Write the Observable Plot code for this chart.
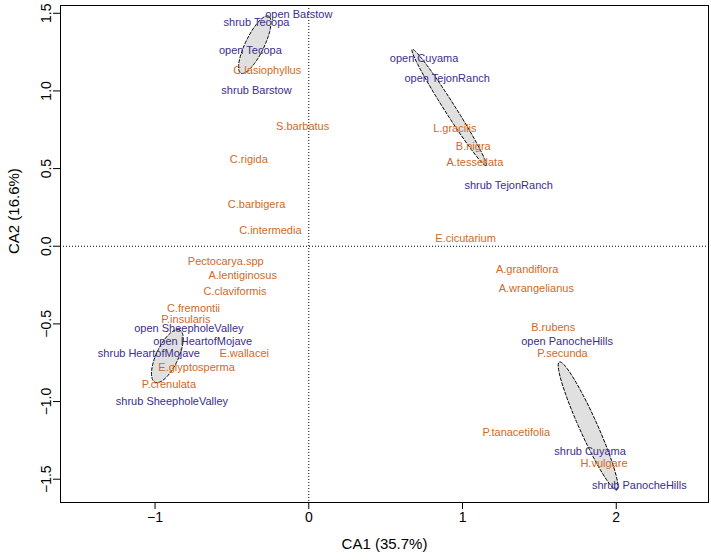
<!DOCTYPE html>
<html><head><meta charset="utf-8">
<script src="https://cdn.jsdelivr.net/npm/d3@7"></script>
<script src="https://cdn.jsdelivr.net/npm/@observablehq/plot@0.6"></script>
<style>body{margin:0;background:#fff;font-family:"Liberation Sans",Arial,sans-serif}</style>
</head><body><div id="c"></div>
<script>
const siteNames = ["open Barstow","shrub Tecopa","open Tecopa","shrub Barstow","open Cuyama","open TejonRanch","shrub TejonRanch","open PanocheHills","shrub Cuyama","shrub PanocheHills","open SheepholeValley","open HeartofMojave","shrub HeartofMojave","shrub SheepholeValley"];
const siteX = [-0.065,-0.34,-0.38,-0.34,0.75,0.90,1.30,1.68,1.83,2.15,-0.78,-0.69,-1.04,-0.89];
const siteY = [1.49,1.44,1.26,1.00,1.21,1.08,0.39,-0.61,-1.32,-1.54,-0.53,-0.61,-0.69,-1.00];
const siteGroup = ["A","A","A","A","B","B","B","C","C","C","D","D","D","D"];
const spNames = ["C.lasiophyllus","S.barbatus","C.rigida","C.barbigera","C.intermedia","Pectocarya.spp","A.lentiginosus","C.claviformis","C.fremontii","P.insularis","E.wallacei","E.glyptosperma","P.crenulata","L.gracilis","B.nigra","A.tessellata","E.cicutarium","A.grandiflora","A.wrangelianus","B.rubens","P.secunda","P.tanacetifolia","H.vulgare"];
const spX = [-0.27,-0.04,-0.39,-0.34,-0.25,-0.54,-0.43,-0.48,-0.75,-0.80,-0.42,-0.73,-0.91,0.95,1.07,1.08,1.02,1.42,1.48,1.59,1.65,1.35,1.92];
const spY = [1.13,0.77,0.56,0.27,0.10,-0.10,-0.19,-0.29,-0.40,-0.47,-0.69,-0.78,-0.89,0.76,0.64,0.54,0.05,-0.15,-0.27,-0.52,-0.69,-1.20,-1.40];
const xTicks = [-1,0,1,2], yTicks = [-1.5,-1,-0.5,0,0.5,1,1.5];

const sites = siteNames.map((n,i)=>({n,x:siteX[i],y:siteY[i],g:siteGroup[i]}));
const sp = spNames.map((n,i)=>({n,x:spX[i],y:spY[i]}));
const ell = [];
const k = 0.85, kMinor = 0.55;
for (const g of ["A","B","C","D"]) {
  const p = sites.filter(d=>d.g===g), n=p.length;
  const mx=d3.mean(p,d=>d.x)-0.07, my=d3.mean(p,d=>d.y);
  const sxx=d3.sum(p,d=>(d.x-mx-0.07)**2)/(n-1), syy=d3.sum(p,d=>(d.y-my)**2)/(n-1), sxy=d3.sum(p,d=>(d.x-mx-0.07)*(d.y-my))/(n-1);
  const tr=sxx+syy, det=sxx*syy-sxy*sxy, disc=Math.sqrt(Math.max(0,tr*tr/4-det));
  const l1=tr/2+disc, l2=Math.max(tr/2-disc, 0.004);
  const th=0.5*Math.atan2(2*sxy, sxx-syy);
  for (let t=0;t<=100;t++){
    const a=2*Math.PI*t/100, u=k*Math.sqrt(l1)*Math.cos(a), v=kMinor*Math.sqrt(l2)*Math.sin(a);
    ell.push({g, x:mx+u*Math.cos(th)-v*Math.sin(th), y:my+u*Math.sin(th)+v*Math.cos(th)});
  }
}
const blue="#3b2e8c", orange="#d2691e";
const plot = Plot.plot({
  width:711, height:560, marginLeft:60, marginRight:3, marginTop:5, marginBottom:58,
  style:{fontFamily:"Liberation Sans, Arial, sans-serif", fontSize:"14px"},
  x:{domain:[-1.615,2.6], ticks:xTicks, tickFormat:d=>d<0?"−"+(-d):d, label:null, tickSize:7},
  y:{domain:[-1.65,1.55], ticks:yTicks, tickFormat:d=>(d<0?"−":"")+Math.abs(d).toFixed(1), label:null, tickSize:7, tickRotate:-90},
  marks:[
    Plot.frame({stroke:"black"}),
    Plot.ruleX([0],{stroke:"black", strokeDasharray:"1,2"}),
    Plot.ruleY([0],{stroke:"black", strokeDasharray:"1,2"}),
    Plot.line(ell,{x:"x",y:"y",z:"g",fill:"#e0e0e0",stroke:"black",strokeDasharray:"3,2",strokeWidth:1}),
    Plot.text(sites,{x:"x",y:"y",text:"n",fill:blue,fontSize:11}),
    Plot.text(sp,{x:"x",y:"y",text:"n",fill:orange,fontSize:11}),
    Plot.text(["CA1 (35.7%)"],{frameAnchor:"bottom",dy:46,fontSize:15,fill:"black"}),
    Plot.text(["CA2 (16.6%)"],{frameAnchor:"left",dx:-46,rotate:-90,fontSize:15,fill:"black"})
  ]
});
document.getElementById("c").append(plot);
</script></body></html>
